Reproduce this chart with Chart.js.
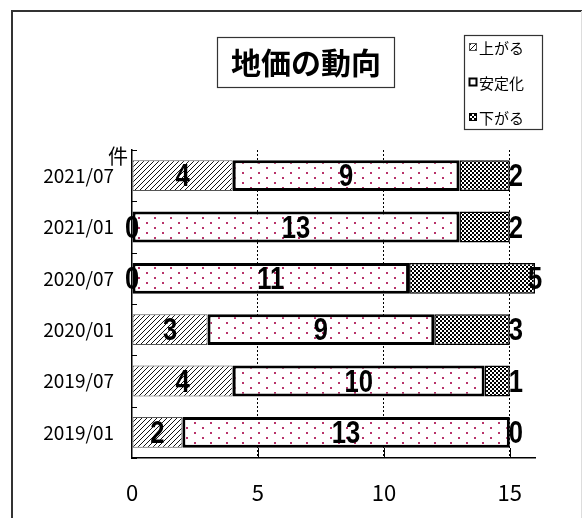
<!DOCTYPE html>
<html lang="ja">
<head>
<meta charset="utf-8">
<title>地価の動向</title>
<script src="https://cdn.jsdelivr.net/npm/chart.js@4/dist/chart.umd.min.js"></script>
<style>
  html, body { margin: 0; padding: 0; background: #fff; }
  #wrap { width: 582px; height: 518px; position: relative; }
</style>
</head>
<body>
<div id="wrap"><canvas id="landChart" width="582" height="518"></canvas></div>
<script>
// 調査時期（上から順）
const periods = ['2021/07', '2021/01', '2020/07', '2020/01', '2019/07', '2019/01'];
const seriesNames = ['上がる', '安定化', '下がる'];
// 件数
const upCounts = [4, 0, 0, 3, 4, 2];
const stableCounts = [9, 13, 11, 9, 10, 13];
const downCounts = [2, 2, 5, 3, 1, 0];
const xTicks = [0, 5, 10, 15];

const JP = '"Noto Sans CJK JP", "Noto Sans", sans-serif';
const NUM = '"Liberation Sans", Arial, sans-serif';

// small tiles used as bar fills
function makeTile(w, h, paint) {
  const c = document.createElement('canvas');
  c.width = w; c.height = h;
  const g = c.getContext('2d');
  g.fillStyle = '#fff';
  g.fillRect(0, 0, w, h);
  paint(g);
  return c;
}
const ctx = document.getElementById('landChart').getContext('2d');

const hatchTile = makeTile(5, 5, g => {
  g.strokeStyle = '#111';
  g.lineWidth = 1;
  g.beginPath();
  g.moveTo(-1, 6); g.lineTo(6, -1);
  g.moveTo(-1, 1); g.lineTo(1, -1);
  g.moveTo(4, 6); g.lineTo(6, 4);
  g.stroke();
});
// staggered dots
const dotTile = makeTile(16, 10, g => {
  g.fillStyle = '#b8336a';
  g.fillRect(2, 2, 2, 2);
  g.fillRect(10, 7, 2, 2);
});
const checkTile = makeTile(4, 4, g => {
  g.fillStyle = '#000';
  g.fillRect(0, 0, 2, 2);
  g.fillRect(2, 2, 2, 2);
});
const hatchFill = ctx.createPattern(hatchTile, 'repeat');
const dotFill = ctx.createPattern(dotTile, 'repeat');
const checkFill = ctx.createPattern(checkTile, 'repeat');

const fills = [hatchFill, dotFill, checkFill];
const borders = [{ c: '#555', w: 1 }, { c: '#000', w: 3 }, { c: '#000', w: 1.5 }];

// narrow text: squeeze horizontally around the anchor point
function squeezedText(c, text, x, y, sx) {
  c.save();
  c.translate(x, y);
  c.scale(sx, 1);
  c.fillText(text, 0, 0);
  c.restore();
}

// frame, title box, legend box, unit label, inner ticks
const decor = {
  id: 'decor',
  beforeDraw(chart) {
    const c = chart.ctx;
    c.save();
    c.strokeStyle = '#333';
    c.lineWidth = 2;
    c.beginPath();
    c.moveTo(12, 518); c.lineTo(12, 11); c.lineTo(582, 11);
    c.stroke();
    c.strokeStyle = '#ddd';
    c.lineWidth = 1;
    c.beginPath();
    c.moveTo(581.5, 11); c.lineTo(581.5, 518);
    c.stroke();
    c.restore();
  },
  afterDraw(chart) {
    const c = chart.ctx;
    const area = chart.chartArea;
    const ys = chart.scales.y, xs = chart.scales.x;
    c.save();

    // title
    c.strokeStyle = '#333';
    c.lineWidth = 1.2;
    c.strokeRect(217.5, 37.5, 177, 50);
    c.fillStyle = '#000';
    c.font = 'bold 30px ' + JP;
    c.textAlign = 'center';
    c.textBaseline = 'middle';
    c.fillText('地価の動向', 306, 63);

    // legend
    c.strokeRect(464.5, 35.5, 78, 94);
    c.font = '15px ' + JP;
    c.textAlign = 'left';
    const rows = [47, 82, 117];
    rows.forEach((ry, i) => {
      c.fillStyle = fills[i];
      c.fillRect(469, ry - 4, 8, 8);
      c.strokeStyle = i === 0 ? '#555' : '#000';
      c.lineWidth = i === 1 ? 2 : 1;
      c.strokeRect(469.5, ry - 3.5, 7, 7);
      c.fillStyle = '#000';
      c.fillText(seriesNames[i], 479, ry + 1);
    });

    // unit
    c.font = '20px ' + JP;
    c.textAlign = 'center';
    c.fillText('件', 118, 156);

    // inner tick marks on both axes
    c.strokeStyle = '#000';
    c.lineWidth = 1;
    c.beginPath();
    const step = (ys.getPixelForValue(1) - ys.getPixelForValue(0));
    for (let i = 0; i <= periods.length; i++) {
      const py = Math.round(ys.getPixelForValue(i) - step / 2) + 0.5;
      c.moveTo(area.left, py); c.lineTo(area.left + 5, py);
    }
    xTicks.slice(1).forEach(v => {
      const px = Math.round(xs.getPixelForValue(v)) + 0.5;
      c.moveTo(px, area.bottom); c.lineTo(px, area.bottom - 10);
    });
    c.stroke();

    // value labels
    c.font = 'bold 32px ' + NUM;
    c.textAlign = 'center';
    c.textBaseline = 'middle';
    c.fillStyle = '#000';
    chart.data.datasets.forEach((ds, di) => {
      chart.getDatasetMeta(di).data.forEach((bar, i) => {
        let lx;
        if (di === 2) lx = Math.min(bar.x + 6, area.right);
        else lx = (bar.x + bar.base) / 2;
        squeezedText(c, String(ds.data[i]), lx, bar.y + 2, 0.8);
      });
    });
    c.restore();
  }
};

new Chart(ctx, {
  type: 'bar',
  data: {
    labels: periods,
    datasets: [upCounts, stableCounts, downCounts].map((vals, i) => ({
      label: seriesNames[i],
      data: vals,
      backgroundColor: fills[i],
      borderColor: borders[i].c,
      borderWidth: borders[i].w,
      borderSkipped: false,
      barPercentage: 0.6,
      categoryPercentage: 1
    }))
  },
  options: {
    responsive: false,
    animation: false,
    indexAxis: 'y',
    layout: { padding: { top: 150, right: 47, left: 0, bottom: 0 } },
    plugins: {
      legend: { display: false },
      title: { display: false },
      tooltip: { enabled: false }
    },
    scales: {
      x: {
        stacked: true,
        min: 0,
        max: 16,
        afterBuildTicks(s) { s.ticks = xTicks.map(v => ({ value: v })); },
        afterFit(s) { s.height = 60; },
        ticks: { color: '#000', padding: 21, font: { family: JP, size: 22 } },
        grid: {
          drawTicks: false,
          color: c => (c.tick && c.tick.value === 0 ? 'rgba(0,0,0,0)' : '#000'),
          lineWidth: 1
        },
        border: { display: true, color: '#000', width: 1.5, dash: [2, 2] }
      },
      y: {
        stacked: true,
        afterFit(s) { s.width = 132; },
        ticks: { color: '#000', padding: 18, font: { family: JP, size: 19 } },
        grid: { display: false, drawTicks: false },
        border: { display: true, color: '#000', width: 1.5 }
      }
    }
  },
  plugins: [decor]
});
</script>
</body>
</html>
